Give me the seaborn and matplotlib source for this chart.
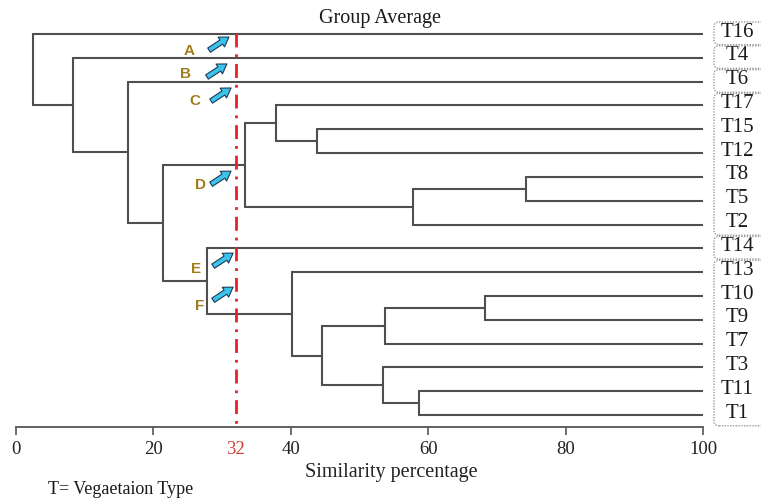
import matplotlib
matplotlib.use("Agg")
import matplotlib.pyplot as plt
import seaborn as sns
import pandas as pd
from matplotlib.patches import FancyBboxPatch
from matplotlib.transforms import IdentityTransform

# ---------------- data ----------------
leaves = ["T16", "T4", "T6", "T17", "T15", "T12", "T8", "T5", "T2",
          "T14", "T13", "T10", "T9", "T7", "T3", "T11", "T1"]

# agglomeration steps (left child, right child, similarity %)
merge_left = ["T15", "T17", "T8", "C3", "C2", "T10", "C6", "T11", "T3",
              "C7", "T13", "T14", "C5", "T6", "T4", "T16"]
merge_right = ["T12", "C1", "T5", "T2", "C4", "T9", "T7", "T1", "C8",
               "C9", "C10", "C11", "C12", "C13", "C14", "C15"]
merge_sim = [43.8, 37.8, 74.2, 57.8, 33.3, 68.3, 53.7, 58.7, 53.4,
             44.5, 40.2, 27.8, 21.4, 16.3, 8.3, 2.5]

label_groups = [["T16"], ["T4"], ["T6"], ["T17", "T15", "T12", "T8", "T5", "T2"],
                ["T14"], ["T13", "T10", "T9", "T7", "T3", "T11", "T1"]]

cut_level = 32
x_ticks = [0, 20, 40, 60, 80, 100]

arrow_letters = ["A", "B", "C", "D", "E", "F"]
arrow_tip_x = [31.0, 30.7, 31.3, 31.3, 31.6, 31.6]
arrow_tip_y = [0.13, 1.26, 2.27, 5.76, 9.20, 10.63]
letter_x = [25.2, 24.6, 26.1, 26.8, 26.2, 26.8]
letter_y = [0.72, 1.70, 2.82, 6.35, 9.87, 11.40]

# ---------------- geometry from the linkage ----------------
pos = {name: (100.0, float(i)) for i, name in enumerate(leaves)}
rows = []
seg = 0
for k, (l, r, s) in enumerate(zip(merge_left, merge_right, merge_sim)):
    xl, yl = pos[l]
    xr, yr = pos[r]
    for xa, ya, xb, yb in [(s, yl, s, yr), (s, yl, xl, yl), (s, yr, xr, yr)]:
        rows.append(dict(x=xa, y=ya, seg=seg))
        rows.append(dict(x=xb, y=yb, seg=seg))
        seg += 1
    pos[f"C{k+1}"] = (s, (yl + yr) / 2)
df = pd.DataFrame(rows)

# ---------------- figure ----------------
sns.set_theme(style="white")
plt.rcParams["font.family"] = ["Liberation Serif", "DejaVu Serif"]

fig = plt.figure(figsize=(7.61, 5.04), dpi=100)
ax = fig.add_axes([16 / 761, 77 / 504, 687 / 761, 405 / 504])

sns.lineplot(data=df, x="x", y="y", units="seg", estimator=None, sort=False,
             color="#4f4f4f", linewidth=1.5, ax=ax, legend=False)

ax.set_xlim(0, 100)
ax.set_ylim(len(leaves) - 0.5, -0.5)

# cut line
ax.vlines(cut_level, -0.05, len(leaves) - 0.5, colors="#e8202a",
          linestyles=(0, (5, 2.5, 1, 2.5)), linewidth=2.0, zorder=3)

# axes styling
for side in ["top", "right", "left"]:
    ax.spines[side].set_visible(False)
ax.spines["bottom"].set_color("#555555")
ax.spines["bottom"].set_linewidth(1.3)
ax.spines["bottom"].set_bounds(0, 100)
ax.set_yticks([])
ticks = sorted(x_ticks + [cut_level])
ax.set_xticks(ticks)
ax.set_xticklabels([str(t) for t in ticks])
ax.tick_params(axis="x", direction="out", length=6, width=1.2, color="#555555",
               labelsize=13.5, pad=4, bottom=True)
for t, lab, tk in zip(ticks, ax.get_xticklabels(), ax.xaxis.get_major_ticks()):
    if t == cut_level:
        lab.set_color("#d0403a")
        tk.tick1line.set_visible(False)
    else:
        lab.set_color("#222222")
ax.set_ylabel("")
ax.set_xlabel("Similarity percentage", fontsize=14.5, color="#222222")
ax.xaxis.set_label_coords((391 - 16) / 687, -0.088)

# leaf labels
for i, name in enumerate(leaves):
    ax.text(105.0, i - 0.08, name, ha="center", va="center", fontsize=15,
            color="#1a1a1a", clip_on=False)

# dotted rounded boxes around label groups
fig.canvas.draw()
for grp in label_groups:
    i0 = leaves.index(grp[0])
    i1 = leaves.index(grp[-1])
    (x0, y0) = ax.transData.transform((101.6, i1 + 0.45))
    (x1, y1) = ax.transData.transform((109.5, i0 - 0.5))
    box = FancyBboxPatch((x0, y0), x1 - x0, y1 - y0,
                         boxstyle="round,pad=0,rounding_size=5",
                         transform=IdentityTransform(), fill=False,
                         edgecolor="#9a9a9a", linewidth=1.0, linestyle=(0, (1, 1)))
    fig.patches.append(box)
    box.set_figure(fig)

# arrows and letters
for L, tx, ty, lx, ly in zip(arrow_letters, arrow_tip_x, arrow_tip_y, letter_x, letter_y):
    ax.annotate("", xy=(tx, ty), xytext=(tx - 2.9, ty + 0.55),
                arrowprops=dict(arrowstyle="simple,head_length=0.55,head_width=0.7,tail_width=0.3",
                                fc="#3cc3ea", ec="#1e3a58", lw=0.8, shrinkA=0, shrinkB=0),
                zorder=4)
    ax.text(lx, ly, L, ha="center", va="center", fontsize=11, fontweight="bold",
            color="#a07d1c", family=["Liberation Sans", "DejaVu Sans"])

# title & footnote
fig.text(380 / 761, 1 - 19 / 504, "Group Average", ha="center", va="center",
         fontsize=14.5, color="#1a1a1a")
fig.text(48 / 761, 1 - 489 / 504, "T= Vegaetaion Type", ha="left", va="center",
         fontsize=13, color="#1a1a1a")

fig.savefig("out.png", dpi=100)
